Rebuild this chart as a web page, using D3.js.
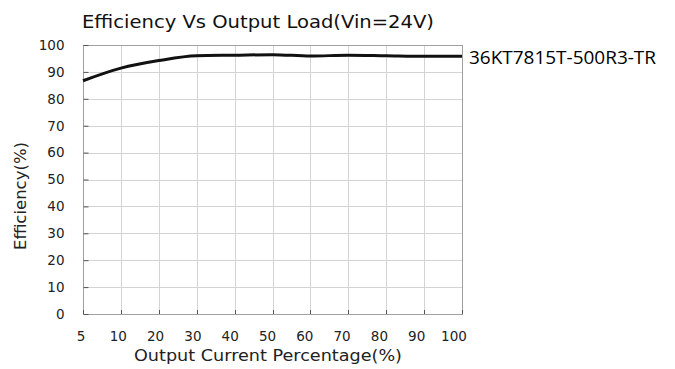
<!DOCTYPE html>
<meta charset="utf-8">
<head>
  <script src="https://cdn.jsdelivr.net/npm/d3@7"></script>
  <style>
    body { margin: 0; background: #fff; }
    .tick text { font-family: "DejaVu Sans", sans-serif; font-size: 13.5px; fill: #222; }
    .grid line { stroke: #d4d4d4; stroke-width: 1; shape-rendering: crispEdges; }
  </style>
</head>
<body>
<script>
// datos
var cargas = ["5", "10", "20", "30", "40", "50", "60", "70", "80", "90", "100"];
var eficiencia = [86.7, 91.4, 94.2, 96.0, 96.2, 96.4, 95.9, 96.2, 96.0, 95.8, 95.8];
var yTicks = [0, 10, 20, 30, 40, 50, 60, 70, 80, 90, 100];
var titulo = "Efficiency Vs Output Load(Vin=24V)";
var serie = "36KT7815T-500R3-TR";

var w = 675, h = 369;
var margin = {top: 45, right: 213, bottom: 55, left: 83};

var svg = d3.select("body").append("svg")
  .attr("width", w).attr("height", h);

var xScale = d3.scalePoint().domain(cargas).range([margin.left, w - margin.right]);
// las etiquetas del eje x no caen justo sobre la grilla en el original
var xLabel = d3.scalePoint().domain(cargas).range([margin.left - 2, w - margin.right - 8]);
var yScale = d3.scaleLinear().domain([0, 100]).range([h - margin.bottom, margin.top]);

// grilla
svg.append("g").attr("class", "grid")
  .selectAll("line").data(cargas.slice(1, -1)).enter().append("line")
  .attr("x1", function(d){ return Math.round(xScale(d)) + 0.5; })
  .attr("x2", function(d){ return Math.round(xScale(d)) + 0.5; })
  .attr("y1", yScale(100)).attr("y2", yScale(0));

svg.append("g").attr("class", "grid")
  .selectAll("line").data(yTicks.slice(1, -1)).enter().append("line")
  .attr("x1", xScale("5")).attr("x2", xScale("100"))
  .attr("y1", function(d){ return Math.round(yScale(d)) + 0.5; })
  .attr("y2", function(d){ return Math.round(yScale(d)) + 0.5; });

// marco
svg.append("rect")
  .attr("x", xScale("5") + 0.5).attr("y", yScale(100) + 0.5)
  .attr("width", xScale("100") - xScale("5")).attr("height", yScale(0) - yScale(100))
  .attr("fill", "none").attr("stroke", "#a0a0a0").attr("stroke-width", 1);

// marcas del eje y (hacia adentro) y etiquetas
var yAxis = svg.append("g").attr("transform", "translate(" + (margin.left + 0.5) + ",0)")
  .call(d3.axisLeft(yScale).tickValues(yTicks).tickSizeInner(-5).tickSizeOuter(0).tickPadding(19));
yAxis.select(".domain").remove();
yAxis.selectAll(".tick line").attr("stroke", "#555");

// marcas del eje x
svg.append("g").selectAll("line").data(cargas).enter().append("line")
  .attr("x1", function(d){ return Math.round(xScale(d)) + 0.5; })
  .attr("x2", function(d){ return Math.round(xScale(d)) + 0.5; })
  .attr("y1", yScale(0)).attr("y2", yScale(0) - 4)
  .attr("stroke", "#555");

svg.append("g").selectAll("text").data(cargas).enter().append("text")
  .attr("x", function(d){ return xLabel(d); })
  .attr("y", 341)
  .attr("text-anchor", "middle")
  .attr("font-family", "DejaVu Sans, sans-serif")
  .attr("font-size", 13.5)
  .attr("fill", "#222")
  .text(function(d){ return d; });

// curva
var linea = d3.line()
  .x(function(d, i){ return xScale(cargas[i]); })
  .y(function(d){ return yScale(d); })
  .curve(d3.curveMonotoneX);

svg.append("path").datum(eficiencia)
  .attr("d", linea)
  .attr("fill", "none").attr("stroke", "#111").attr("stroke-width", 3);

// titulos
svg.append("text")
  .attr("x", 258).attr("y", 28)
  .attr("text-anchor", "middle")
  .attr("font-family", "DejaVu Sans, sans-serif")
  .attr("font-size", 18.5)
  .attr("fill", "#111")
  .attr("textLength", 352).attr("lengthAdjust", "spacingAndGlyphs")
  .text(titulo);

svg.append("text")
  .attr("x", 268).attr("y", 361)
  .attr("text-anchor", "middle")
  .attr("font-family", "DejaVu Sans, sans-serif")
  .attr("font-size", 15)
  .attr("fill", "#222")
  .attr("textLength", 268).attr("lengthAdjust", "spacingAndGlyphs")
  .text("Output Current Percentage(%)");

svg.append("text")
  .attr("transform", "translate(26,196) rotate(-90)")
  .attr("text-anchor", "middle")
  .attr("font-family", "DejaVu Sans, sans-serif")
  .attr("font-size", 15)
  .attr("fill", "#222")
  .attr("textLength", 108).attr("lengthAdjust", "spacingAndGlyphs")
  .text("Efficiency(%)");

svg.append("text")
  .attr("x", 469).attr("y", 64)
  .attr("font-family", "Open Sans, sans-serif")
  .attr("font-size", 18)
  .attr("fill", "#000")
  .attr("textLength", 187).attr("lengthAdjust", "spacingAndGlyphs")
  .text(serie);
</script>
</body>
